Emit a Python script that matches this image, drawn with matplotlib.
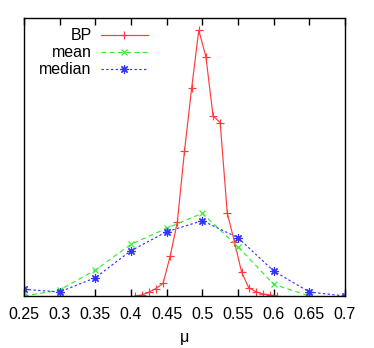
import matplotlib
matplotlib.use("Agg")
import matplotlib.pyplot as plt

# -----------------------------
# Data
# -----------------------------
bp_mu = [0.405, 0.415, 0.425, 0.435, 0.445, 0.455, 0.465, 0.475, 0.485, 0.495,
         0.505, 0.515, 0.525, 0.535, 0.545, 0.555, 0.565, 0.575, 0.585, 0.595, 0.605]
bp_val = [0.0, 0.1, 0.37, 0.75, 1.27, 4.0, 7.43, 14.5, 20.77, 26.57,
          23.93, 18.03, 17.33, 8.27, 5.43, 2.4, 0.83, 0.43, 0.2, 0.1, 0.0]

mean_mu = [0.25, 0.30, 0.35, 0.40, 0.45, 0.50, 0.55, 0.60, 0.65]
mean_val = [0.0, 0.6, 2.6, 5.17, 6.77, 8.27, 4.93, 1.17, 0.0]

median_mu = [0.25, 0.30, 0.35, 0.40, 0.45, 0.50, 0.55, 0.60, 0.65, 0.70]
median_val = [0.67, 0.4, 1.83, 4.53, 6.43, 7.53, 5.83, 2.5, 0.4, 0.0]

xticks = [0.25, 0.3, 0.35, 0.4, 0.45, 0.5, 0.55, 0.6, 0.65, 0.7]
xtick_labels = ["0.25", "0.3", "0.35", "0.4", "0.45", "0.5", "0.55", "0.6", "0.65", "0.7"]

# -----------------------------
# Figure
# -----------------------------
plt.rcParams["font.family"] = ["Liberation Sans", "DejaVu Sans"]

fig = plt.figure(figsize=(3.74, 3.48), dpi=100)
ax = fig.add_axes([24 / 374, 1 - 296 / 348, 321 / 374, 278 / 348])

ax.plot(bp_mu, bp_val, color="#ff3b3b", lw=0.85, marker="+", ms=5.5, mew=0.85,
        label="BP")
ax.plot(mean_mu, mean_val, color="#33ee33", lw=0.85, marker="x", ms=4.5, mew=0.85,
        dashes=(4, 3), label="mean")
ax.plot(median_mu, median_val, color="#3333ff", lw=0.85, marker=(8, 2, 0), ms=6,
        mew=0.85, dashes=(2, 2), label="median")

ax.set_xlim(0.25, 0.7)
ax.set_ylim(0, 27.8)
ax.set_xticks(xticks)
ax.set_xticklabels(xtick_labels, fontsize=11.5)
ax.set_yticks([])
ax.tick_params(axis="x", direction="in", length=5, width=1, top=True,
               pad=8, colors="black")
for spine in ax.spines.values():
    spine.set_linewidth(1)
    spine.set_color("black")

ax.set_xlabel("μ", fontsize=11.5, labelpad=6)

ax.legend(loc="upper right", bbox_to_anchor=(0.385, 0.963), frameon=False,
          markerfirst=False, fontsize=11.5, handlelength=2.9, handletextpad=0.6,
          borderpad=0, borderaxespad=0, labelspacing=0.12)

fig.savefig("out.png", dpi=100)
